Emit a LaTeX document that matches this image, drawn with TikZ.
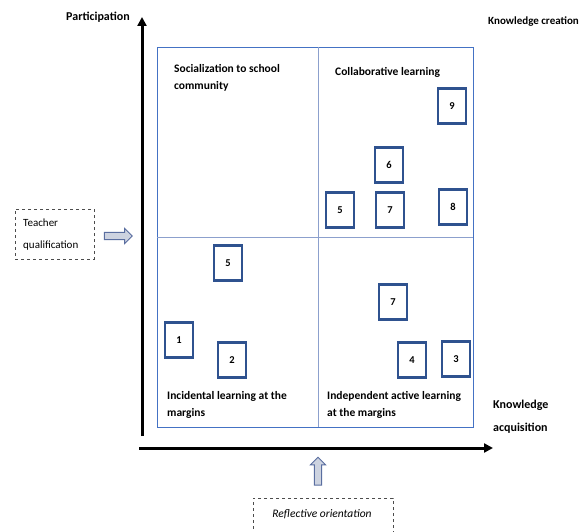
\documentclass[tikz,border=0pt]{standalone}
\usepackage{fontspec}
\setmainfont{Carlito}
\usepackage{tikz}
\usetikzlibrary{arrows.meta}
\usetikzlibrary{shapes.arrows}
\definecolor{frameblue}{RGB}{68,114,196}
\definecolor{midblue}{RGB}{140,160,205}
\definecolor{boxblue}{RGB}{47,82,143}
\definecolor{arrowfill}{RGB}{205,211,224}
\definecolor{arrowline}{RGB}{90,110,160}

\begin{document}
\begin{tikzpicture}[x=1pt,y=-1pt,
	axisline/.style={line width=3pt, -{Triangle[length=9pt,width=9pt]}},
	numbox/.style={draw=boxblue, line width=2.2pt, minimum width=28pt, minimum height=35pt, inner sep=0pt, font=\fontsize{10.5}{12}\selectfont\bfseries},
	quadlabel/.style={anchor=north west, align=left, inner sep=0pt, font=\fontsize{11.5}{17}\selectfont\bfseries},
	axislabel/.style={anchor=base west, inner sep=0pt, font=\fontsize{11}{23}\selectfont\bfseries, align=left},
	infobox/.style={draw=black!70, dashed, line width=0.5pt, inner sep=0pt},
	hollowarrow/.style={single arrow, draw=arrowline, fill=arrowfill, line width=0.9pt, inner sep=3.2pt, single arrow head extend=4pt, minimum height=28pt}
	]
	\useasboundingbox (0,0) rectangle (586,532);

	\def\frameleft{157}
	\def\frameright{473}
	\def\frametop{47}
	\def\framebottom{427}
	\def\midx{318}
	\def\midy{237}

	% quadrant frame
	\draw[frameblue, line width=0.8pt] (\frameleft,\frametop) rectangle (\frameright,\framebottom);
	\draw[midblue, line width=0.7pt] (\midx,\frametop) -- (\midx,\framebottom);
	\draw[midblue, line width=0.7pt] (\frameleft,\midy) -- (\frameright,\midy);

	% axes
	\coordinate (ybottom) at (142,436);
	\coordinate (ytip) at (142,17);
	\coordinate (xleft) at (139,448);
	\coordinate (xtip) at (493,448);
	\draw[axisline] (ybottom) -- (ytip);
	\draw[axisline] (xleft) -- (xtip);

	\node[axislabel, font=\fontsize{12}{14}\selectfont\bfseries] (participation) at (66,21) {Participation};
	\node[axislabel] (creation) at (488,25) {Knowledge creation};
	\node[axislabel, anchor=north west, font=\fontsize{12}{23}\selectfont\bfseries] (acquisition) at (493,400) {Knowledge\\acquisition};

	% quadrant labels
	\node[quadlabel] (social) at (174,64) {Socialization to school\\community};
	\node[quadlabel] (collab) at (335,67) {Collaborative learning};
	\node[quadlabel] (incidental) at (167,391) {Incidental learning at the\\margins};
	\node[quadlabel] (independent) at (327,391) {Independent active learning\\at the margins};

	% numbered boxes
	\node[numbox] (nine) at (452,106) {9};
	\node[numbox] (six) at (389,165) {6};
	\node[numbox] (fiveup) at (340,210) {5};
	\node[numbox] (sevenup) at (390,210) {7};
	\node[numbox] (eight) at (453,207) {8};
	\node[numbox] (fivelow) at (228,263) {5};
	\node[numbox] (one) at (179,340) {1};
	\node[numbox] (two) at (232,360) {2};
	\node[numbox] (sevenlow) at (393,302) {7};
	\node[numbox] (four) at (412,360) {4};
	\node[numbox] (three) at (456,359) {3};

	% influences
	\node[infobox, minimum width=79pt, minimum height=50pt] (teacher) at (54.5,234) {};
	\node[anchor=north west, inner sep=0pt, align=left, font=\fontsize{11}{22}\selectfont] (teachertext) at (23,219) {Teacher\\qualification};
	\node[hollowarrow] (rightarrow) at (116.5,236) {};

	\node[infobox, minimum width=140pt, minimum height=40pt] (reflect) at (323,518) {};
	\node[inner sep=0pt, font=\fontsize{11.5}{13}\selectfont\itshape] (reflecttext) at (322,514) {Reflective orientation};
	\node[hollowarrow, rotate=90] (uparrow) at (318,473) {};
\end{tikzpicture}
\end{document}
